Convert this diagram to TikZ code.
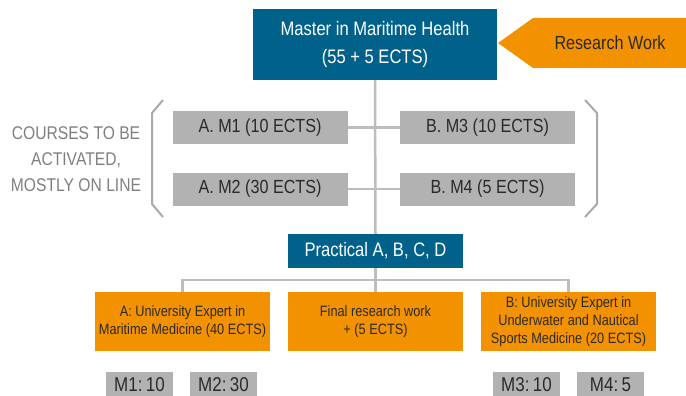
\documentclass[tikz,border=0pt]{standalone}
\usepackage{fontspec}
\setmainfont{Liberation Sans}[FakeStretch=0.85]
\definecolor{mblue}{HTML}{00628B}
\definecolor{morange}{HTML}{F39200}
\definecolor{mgray}{HTML}{B2B2B2}
\definecolor{mline}{HTML}{BDBDBD}
\definecolor{mtext}{HTML}{2A2A2A}
\definecolor{mcap}{HTML}{7F7F7F}
\begin{document}
\begin{tikzpicture}[x=1pt,y=-1pt,
  bluebox/.style={fill=mblue,text=white,inner sep=0pt,align=center,font=\fontsize{19.5}{28}\selectfont},
  graybox/.style={fill=mgray,text=mtext,inner sep=0pt,minimum width=175pt,minimum height=33pt,font=\fontsize{19}{22}\selectfont},
  orangebox/.style={fill=morange,text=mtext,inner sep=0pt,minimum width=175pt,minimum height=59pt,align=center,font=\fontsize{15}{18}\selectfont},
  smallbox/.style={fill=mgray,text=mtext,inner sep=0pt,minimum width=67pt,minimum height=26pt,font=\fontsize{20}{22}\selectfont},
  conn/.style={draw=mline,line width=2.5pt},
  brack/.style={draw=mline!90!black,line width=2pt}]
\useasboundingbox (0,0) rectangle (686,396);
% top
\node[bluebox,minimum width=244pt,minimum height=71pt] (master) at (375,44.5) {Master in Maritime Health\\(55 + 5 ECTS)};
\fill[morange] (498,43) -- (533,18) -- (686,18) -- (686,68) -- (533,68) -- cycle;
\node[text=mtext,font=\fontsize{19}{22}\selectfont] (research) at (610,43) {Research Work};
% courses
\node[graybox] (m1) at (260,127.5) {A. M1 (10 ECTS)};
\node[graybox] (m2) at (260,189) {A. M2 (30 ECTS)};
\node[graybox] (m3) at (487.5,127.5) {B. M3 (10 ECTS)};
\node[graybox] (m4) at (487.5,189) {B. M4 (5 ECTS)};
\node[text=mcap,align=center,font=\fontsize{18.4}{26}\selectfont] (courses) at (76,159) {COURSES TO BE\\ACTIVATED,\\MOSTLY ON LINE};
% brackets
\draw[brack] (163,100) -- (152,113) -- (152,204) -- (163,217);
\draw[brack] (585,100) -- (597,113) -- (597,204) -- (585,217);
% practical
\node[bluebox,minimum width=175pt,minimum height=34pt] (prac) at (375.5,251) {Practical A, B, C, D};
% bottom
\node[orangebox] (oa) at (182.5,321.5) {A: University Expert in\\Maritime Medicine (40 ECTS)};
\node[orangebox] (ob) at (375.5,321.5) {Final research work\\+ (5 ECTS)};
\node[orangebox] (oc) at (568.5,321.5) {B: University Expert in\\Underwater and Nautical\\Sports Medicine (20 ECTS)};
\node[smallbox] (s1) at (139.5,385) {M1:\,10};
\node[smallbox] (s2) at (223.5,385) {M2:\,30};
\node[smallbox] (s3) at (526.5,385) {M3:\,10};
\node[smallbox] (s4) at (610.5,385) {M4:\,5};
% connectors
\coordinate (hub) at (375,280);
\draw[conn] (m1.east) -- (m3.west);
\draw[conn] (m2.east) -- (m4.west);
\draw[conn] (master.south) -- (prac.north);
\draw[conn] (prac.south) -- (ob.north);
\draw[conn] (oa.north) |- (hub) -| (oc.north);
\end{tikzpicture}
\end{document}
